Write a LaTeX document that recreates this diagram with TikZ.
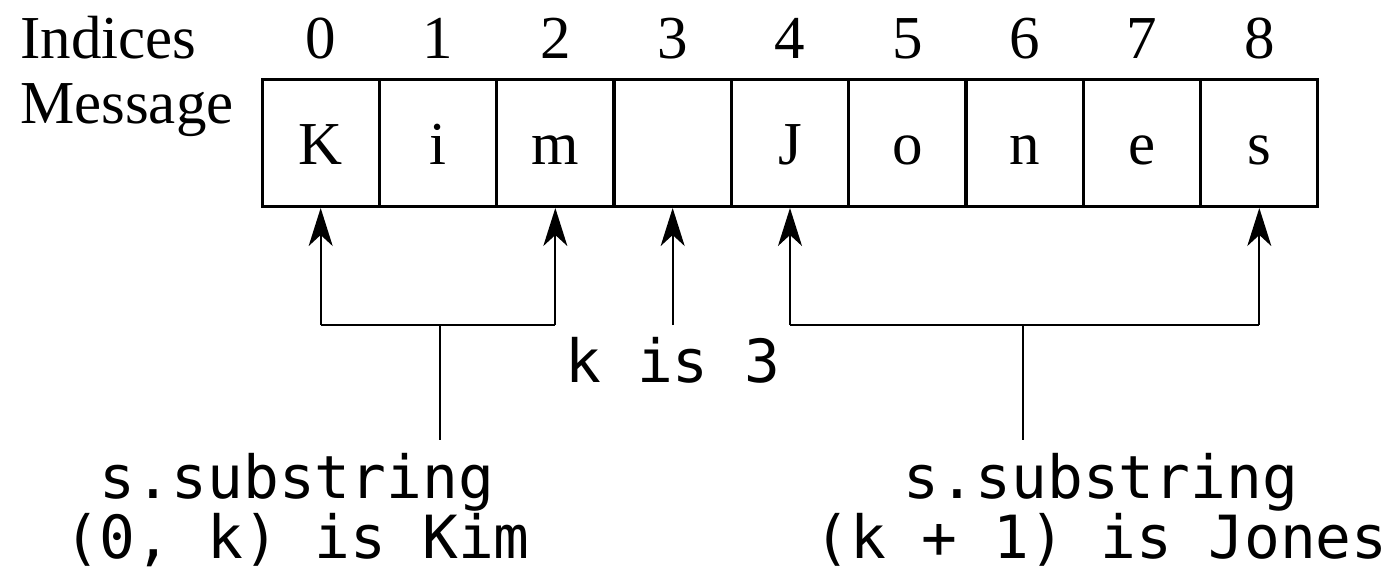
\documentclass[tikz,border=0pt]{standalone}
\usepackage{fontspec}
\setmainfont{Liberation Serif}
\newfontfamily\codefont{DejaVu Sans Mono}
\usetikzlibrary{arrows.meta}
\begin{document}
\begin{tikzpicture}[x=1pt,y=-1pt,
  serif/.style={font=\fontsize{61}{61}\selectfont, inner sep=0pt},
  code/.style={font=\codefont\fontsize{59.5}{60}\selectfont, inner sep=0pt, align=center},
  cell/.style={draw, line width=3pt, minimum width=117.3pt, minimum height=127pt,
    inner sep=0pt, text height=46pt, text depth=4pt, font=\fontsize{61}{61}\selectfont},
  arr/.style={line width=2pt, -{Stealth[length=38pt,width=24pt,inset=11pt]}},
  ln/.style={line width=2pt}]
\useasboundingbox (0,0) rectangle (1400,574);
% row labels
\node[serif, anchor=base west] (ind) at (20,58) {Indices};
\node[serif, anchor=base west] (msg) at (20,123) {Message};
% cells
\foreach \i/\ch in {0/K,1/i,2/m,3/{},4/J,5/o,6/n,7/e,8/s}{
  \node[cell] (c\i) at ({262+117.33*\i+58.67},143) {\ch};
  \node[serif, anchor=base] (n\i) at ({262+117.33*\i+58.67},58) {\i};
}
% coordinates
\coordinate (l0) at (c0.south |- 0,325);
\coordinate (l2) at (c2.south |- 0,325);
\coordinate (k3) at (c3.south |- 0,325);
\coordinate (r4) at (c4.south |- 0,325);
\coordinate (r8) at (c8.south |- 0,325);
\coordinate (lm) at (440,325);
\coordinate (lb) at (440,440);
\coordinate (rm) at (1023,325);
\coordinate (rb) at (1023,440);
% arrows
\draw[arr] (l0) -- (c0.south);
\draw[arr] (l2) -- (c2.south);
\draw[arr] (k3) -- (c3.south);
\draw[arr] (r4) -- (c4.south);
\draw[arr] (r8) -- (c8.south);
\draw[ln] (l0) -- (l2);
\draw[ln] (r4) -- (r8);
\draw[ln] (lm) -- (lb);
\draw[ln] (rm) -- (rb);
% texts
\node[code, anchor=base] (kis) at (673,382) {k is 3};
\node[code, anchor=base] (kim) at (297,558) {s.substring\\(0, k) is Kim};
\node[code, anchor=base] (jones) at (1101,558) {s.substring\\(k + 1) is Jones};
\end{tikzpicture}
\end{document}
